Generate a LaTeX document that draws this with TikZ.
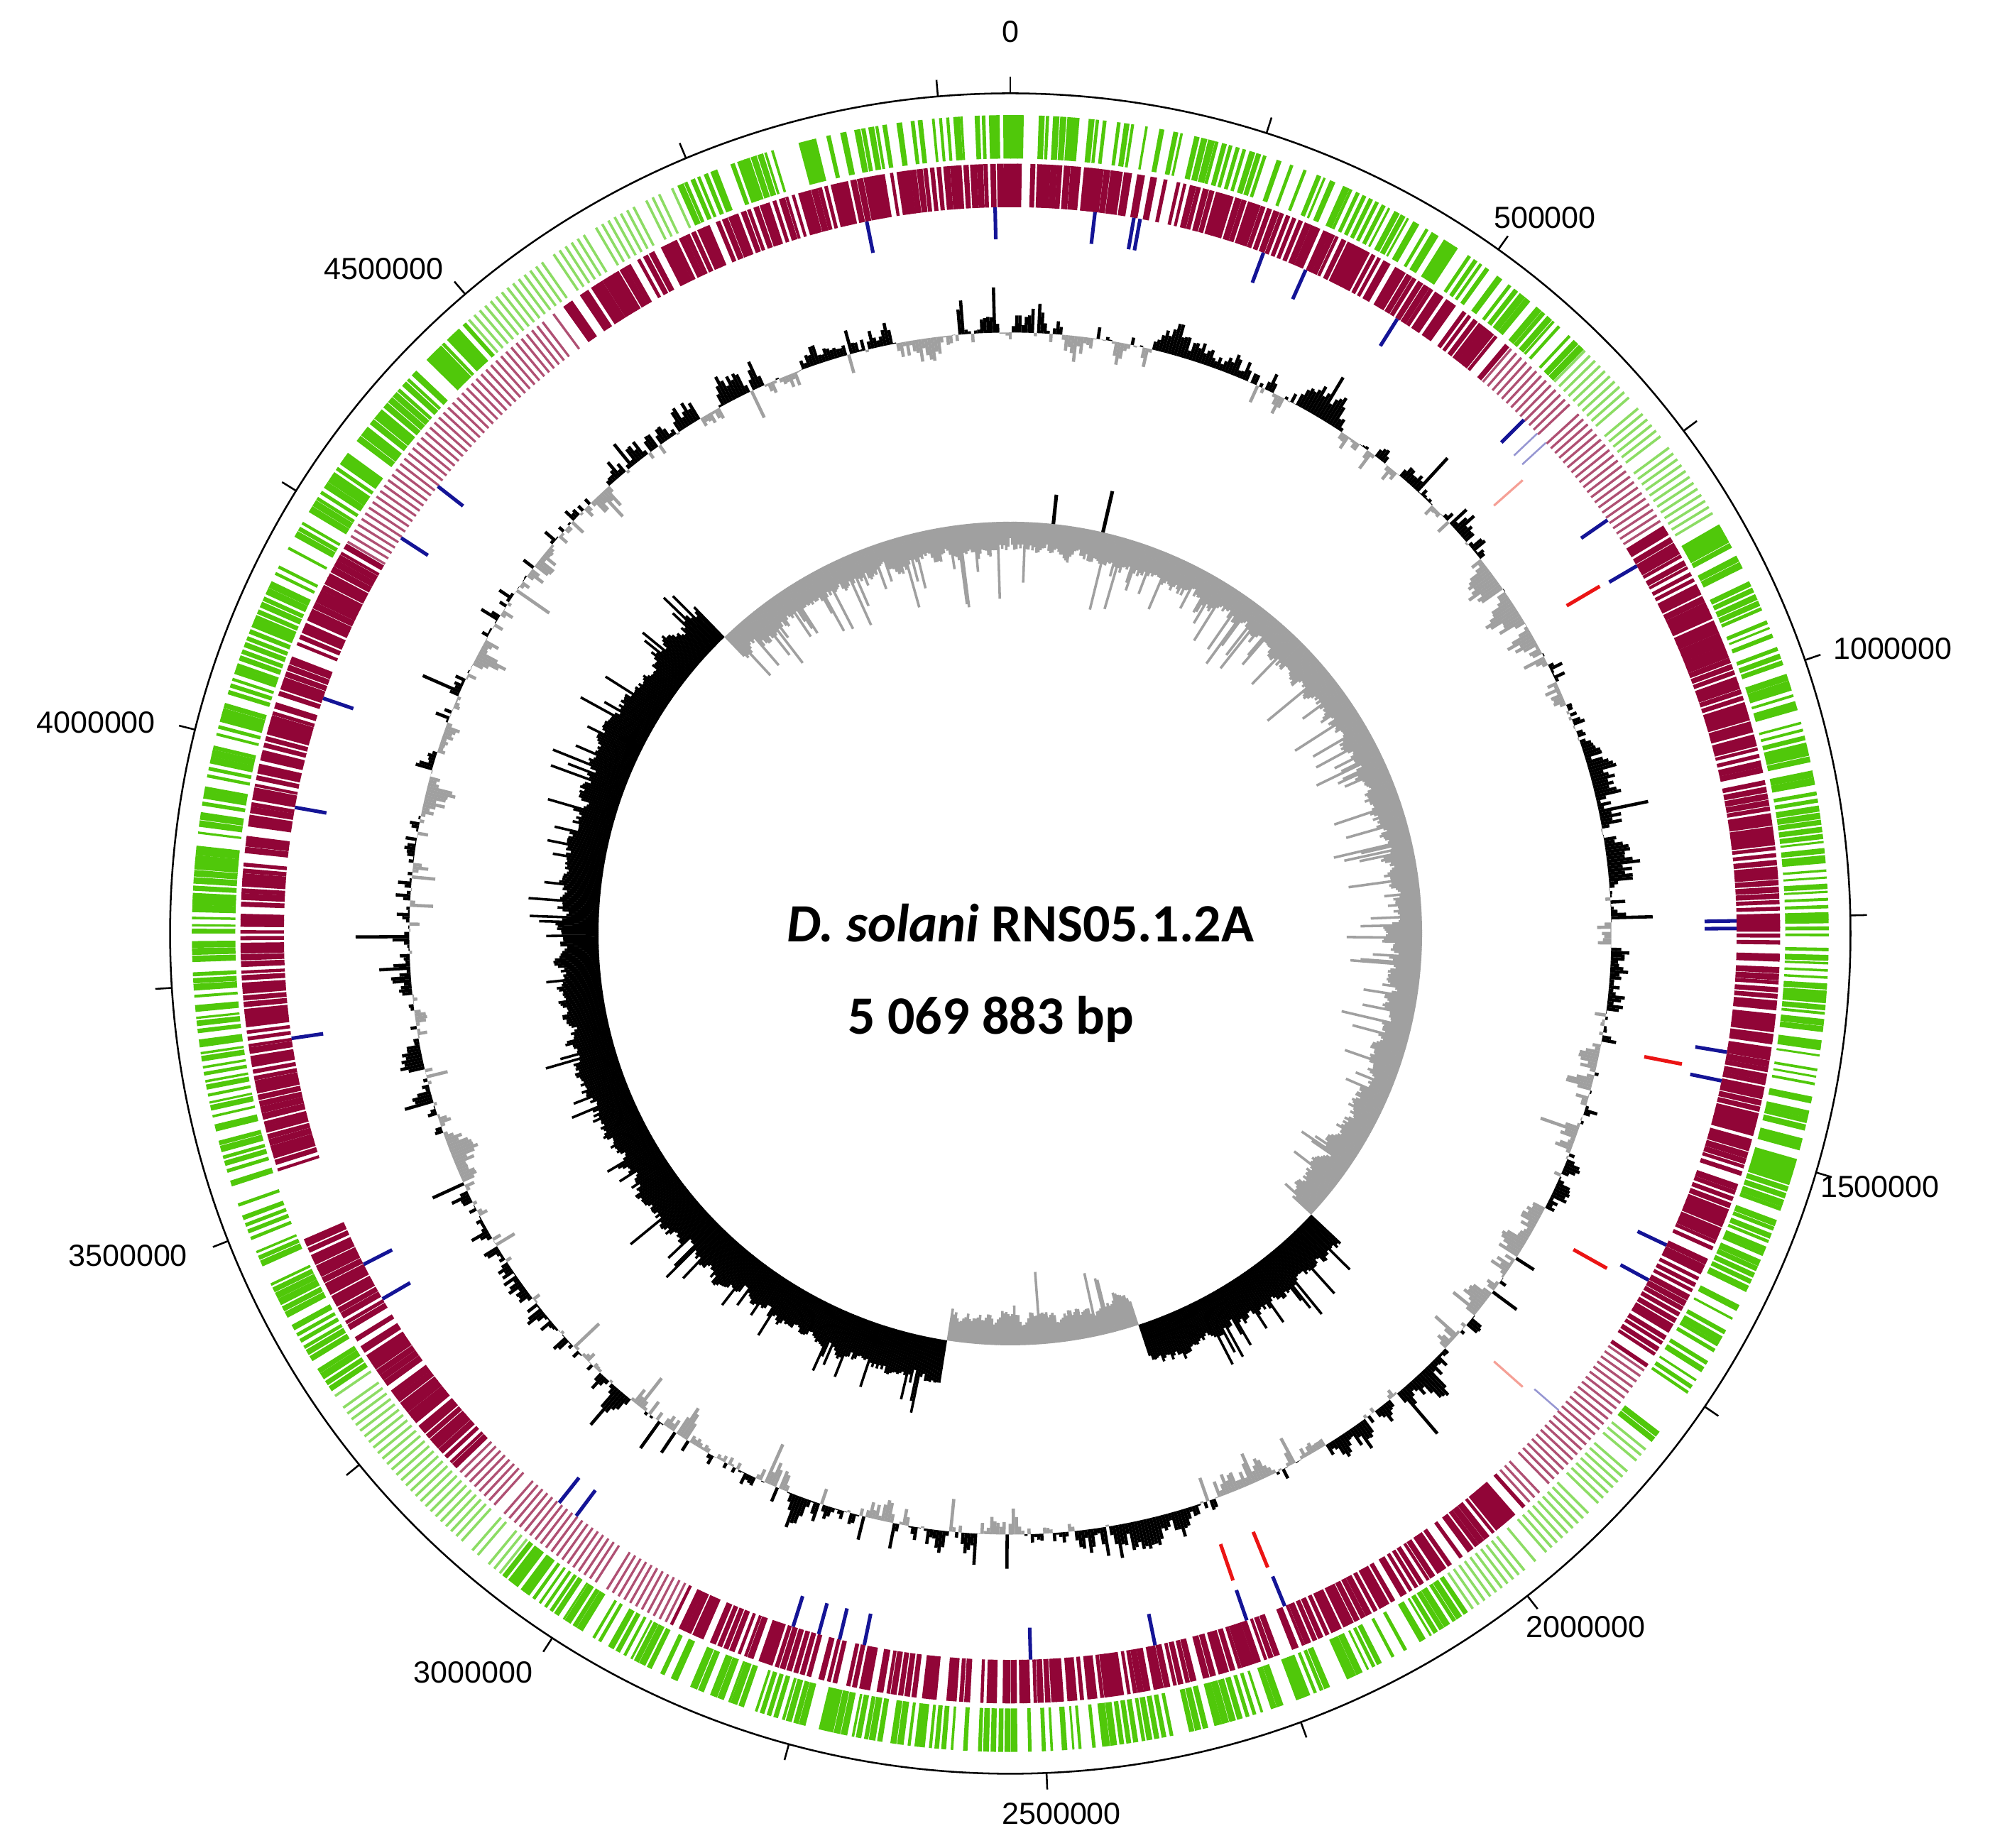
\documentclass[tikz,border=0pt]{standalone}
\usepackage{fontspec}
\setmainfont{Liberation Sans}
\newfontfamily\calib{Carlito}
\definecolor{gn}{RGB}{80,200,10}
\definecolor{gnl}{RGB}{140,220,100}
\definecolor{mg}{RGB}{145,5,55}
\definecolor{mgl}{RGB}{175,80,115}
\definecolor{bl}{RGB}{20,20,150}
\definecolor{bll}{RGB}{150,150,210}
\definecolor{rd}{RGB}{235,20,20}
\definecolor{rdl}{RGB}{245,160,150}
\definecolor{gy}{RGB}{160,160,160}
\tikzset{feat/.style={line width=4pt}, tickmark/.style={line width=2pt}}
\begin{document}
\begin{tikzpicture}[x=0.05cm,y=0.05cm]
\useasboundingbox (0,0) rectangle (1560,1445);
\begin{scope}[shift={(790,715)}]
\pgfmathsetseed{11}
% outer circle and ticks
\draw[line width=2pt] (0,0) circle[radius=657];
\foreach \k in {0,...,20}{
  \pgfmathsetmacro\a{90-\k*17.7527}
  \draw[tickmark] (\a:657) -- (\a:670);
}
% green ring
\foreach \i in {0,...,719}{
  \pgfmathsetmacro\t{\i*0.5}
  \pgfmathtruncatemacro\thin{(\t>318)*(\t<336)+(\t>44)*(\t<60)+(\t>128)*(\t<146)+(\t>218)*(\t<236)}
  \pgfmathsetmacro\r{rnd}
  \ifnum\thin=1
    \pgfmathsetmacro\w{0.18}\def\cc{gnl}\def\thr{0.1}
  \else
    \pgfmathsetmacro\w{0.5*(0.3+0.85*rnd)}\def\cc{gn}\def\thr{0.2}
  \fi
  \pgfmathsetmacro\a{90-\t}
  \pgfmathsetmacro\b{\a-\w}
  \ifdim\r pt>\thr pt
    \fill[\cc] (\a:606) arc[start angle=\a,end angle=\b,radius=606] -- (\b:640) arc[start angle=\b,end angle=\a,radius=640] -- cycle;
  \fi
}
% magenta ring
\foreach \i in {0,...,719}{
  \pgfmathsetmacro\t{\i*0.5}
  \pgfmathtruncatemacro\thin{(\t>300)*(\t<324)+(\t>40)*(\t<58)+(\t>124)*(\t<138)+(\t>206)*(\t<226)}
  \pgfmathtruncatemacro\gap{(\t>246)*(\t<252)}
  \pgfmathsetmacro\r{rnd}
  \ifnum\thin=1
    \pgfmathsetmacro\w{0.18}\def\cc{mgl}\def\thr{0.05}
  \else
    \pgfmathsetmacro\w{0.5*(0.45+0.8*rnd)}\def\cc{mg}\def\thr{0.1}
  \fi
  \ifnum\gap=1 \def\thr{1.1}\fi
  \pgfmathsetmacro\a{90-\t}
  \pgfmathsetmacro\b{\a-\w}
  \ifdim\r pt>\thr pt
    \fill[\cc] (\a:568) arc[start angle=\a,end angle=\b,radius=568] -- (\b:602) arc[start angle=\b,end angle=\a,radius=602] -- cycle;
  \fi
}
% blue features
\foreach \t in {348.6,358.8,6.7,9.8,10.3,20.4,24,32.2,45,55.3,59.6,89,89.6,99.4,101.7,115.4,118.5,157.8,161,168.5,178.4,191.6,193.6,195.3,197.4,216.7,218.4,239.8,242.9,261.7,280,288.9,303,308}{
  \pgfmathsetmacro\a{90-\t}
  \draw[feat,bl] (\a:543) -- (\a:568);
}
\foreach \t in {46.5,47.5,131}{
  \pgfmathsetmacro\a{90-\t}
  \draw[line width=2pt,bll] (\a:543) -- (\a:568);
}
\foreach \t in {59.5,101,119.3,157.9,161}{
  \pgfmathsetmacro\a{90-\t}
  \draw[feat,rd] (\a:505) -- (\a:535);
}
\foreach \t in {48.5,131.5}{
  \pgfmathsetmacro\a{90-\t}
  \draw[line width=2.5pt,rdl] (\a:505) -- (\a:535);
}
% GC content (smoothed random walk)
\gdef\vp{0}
\foreach \i in {0,...,1199}{
  \pgfmathsetmacro\a{90-\i*0.3}
  \pgfmathsetmacro\vn{0.82*\vp+10*rand}
  \pgfmathsetmacro\v{\vn+(rnd>0.9)*30*rand}
  \xdef\vp{\vn}
  \ifdim\v pt>0pt
    \draw[line width=3.6pt,black] (\a:470) -- (\a:470+\v);
  \else
    \draw[line width=3.6pt,gy] (\a:470) -- (\a:470+\v);
  \fi
}
% GC skew
\gdef\sp{0}
\foreach \i in {0,...,1199}{
  \pgfmathsetmacro\t{\i*0.3}
  \pgfmathtruncatemacro\blk{(\t>133)*(\t<162)+(\t>189)*(\t<316)}
  \pgfmathsetmacro\a{90-\t}
  \pgfmathsetmacro\sn{0.6*\sp+8*rnd}
  \xdef\sp{\sn}
  \ifnum\blk=1
    \pgfmathsetmacro\v{20+\sn+(rnd>0.85)*30*rnd}
    \draw[line width=2.8pt,black] (\a:322) -- (\a:322+\v);
  \else
    \pgfmathsetmacro\v{12+\sn+(rnd>0.85)*40*rnd}
    \draw[line width=2.8pt,gy] (\a:322) -- (\a:322-\v);
  \fi
}
\draw[line width=4pt,black] (84:322) -- (84:345);
\draw[line width=4pt,black] (77:322) -- (77:355);
\end{scope}
% labels
\begin{scope}[font=\fontsize{34}{36}\selectfont]
\node (l0) at (790,1420) {0};
\node (l1) at (1208,1275) {500000};
\node (l2) at (1480,938) {1000000};
\node (l3) at (1470,517) {1500000};
\node (l4) at (1240,173) {2000000};
\node (l5) at (830,27) {2500000};
\node (l6) at (370,137) {3000000};
\node (l7) at (100,463) {3500000};
\node (l8) at (75,880) {4000000};
\node (l9) at (300,1235) {4500000};
\end{scope}
\node[font=\calib\bfseries\fontsize{60}{64}\selectfont] (t1) at (798,723) {\textit{D. solani} RNS05.1.2A};
\node[font=\calib\bfseries\fontsize{60}{64}\selectfont] (t2) at (775,648) {5 069 883 bp};
\end{tikzpicture}
\end{document}
